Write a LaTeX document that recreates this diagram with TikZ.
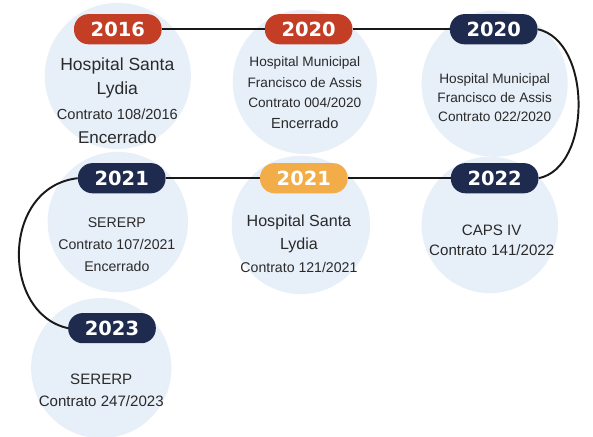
\documentclass[tikz,border=0pt]{standalone}
\usepackage{fontspec}
\setmainfont{Liberation Sans}
\newfontfamily\yearfont{DejaVu Sans}
\definecolor{pillred}{HTML}{C43E26}
\definecolor{pillnavy}{HTML}{1F2B4E}
\definecolor{pillyellow}{HTML}{F2AD48}
\definecolor{bubble}{HTML}{E7EFF9}
\definecolor{txt}{HTML}{2A2A2A}
\pgfdeclarelayer{bubblelayer}
\pgfdeclarelayer{linklayer}
\pgfsetlayers{bubblelayer,linklayer,main}
\newcommand{\fs}[2]{\fontsize{#1}{#2}\selectfont}
\tikzset{
  bubblenode/.style={circle, fill=bubble, inner sep=0pt, minimum size=#1},
  pill/.style={rectangle, rounded corners=15pt, fill=#1, minimum width=90pt, minimum height=31pt, inner sep=0pt, text=white, font=\yearfont\bfseries\fs{20}{20}},
  info/.style={align=center, text=txt, inner sep=0pt},
  link/.style={line width=2pt, draw=black!90},
}
\begin{document}
\begin{tikzpicture}[x=1pt,y=-1pt]
\begin{pgfonlayer}{bubblelayer}
\useasboundingbox[fill=white] (0,0) rectangle (593,448);
\node[bubblenode=150pt] (c1) at (118,78) {};
\node[bubblenode=148pt] (c2) at (310,84) {};
\node[bubblenode=150pt] (c3) at (505,86) {};
\node[bubblenode=144pt] (c4) at (118,228) {};
\node[bubblenode=142pt] (c5) at (306,231) {};
\node[bubblenode=140pt] (c6) at (500,231) {};
\node[bubblenode=144pt] (c7) at (101,378) {};
\end{pgfonlayer}
% pills
\node[pill=pillred] (p1) at (118,30) {2016};
\node[pill=pillred] (p2) at (314,30) {2020};
\node[pill=pillnavy] (p3) at (504,30) {2020};
\node[pill=pillnavy] (p4) at (122,183) {2021};
\node[pill=pillyellow] (p5) at (309,183) {2021};
\node[pill=pillnavy] (p6) at (505,183) {2022};
\node[pill=pillnavy] (p7) at (112,337) {2023};
% connectors
\begin{pgfonlayer}{linklayer}
\draw[link] (p1.east) -- (p2.west);
\draw[link] (p2.east) -- (p3.west);
\draw[link] (p3.east) .. controls (605,42) and (605,172) .. (p6.east);
\draw[link] (p6.west) -- (p5.east);
\draw[link] (p5.west) -- (p4.east);
\draw[link] (p4.west) .. controls (-2,192) and (-2,322) .. (p7.west);
\end{pgfonlayer}
% texts
\node[info, font=\fs{18}{25}] (t1) at (117.5,103.5) {Hospital Santa\\Lydia\\{\fs{15}{25}Contrato 108/2016}\\{\fs{17.5}{25}Encerrado}};
\node[info, font=\fs{14}{21}] (t2) at (310,95) {Hospital Municipal\\Francisco de Assis\\Contrato 004/2020\\{\fs{15}{21}Encerrado}};
\node[info, font=\fs{14}{19.5}] (t3) at (505,100) {Hospital Municipal\\Francisco de Assis\\Contrato 022/2020};
\node[info, font=\fs{14.5}{22.5}] (t4) at (117,251.5) {SERERP\\Contrato 107/2021\\Encerrado};
\node[info, font=\fs{16.5}{23.5}] (t5) at (304,250.5) {Hospital Santa\\Lydia\\{\fs{14.5}{23.5}Contrato 121/2021}};
\node[info, font=\fs{15.5}{20}] (t6) at (502,247) {CAPS IV\\Contrato 141/2022};
\node[info, font=\fs{15.5}{22}] (t7) at (101,401) {SERERP\\Contrato 247/2023};
\end{tikzpicture}
\end{document}
